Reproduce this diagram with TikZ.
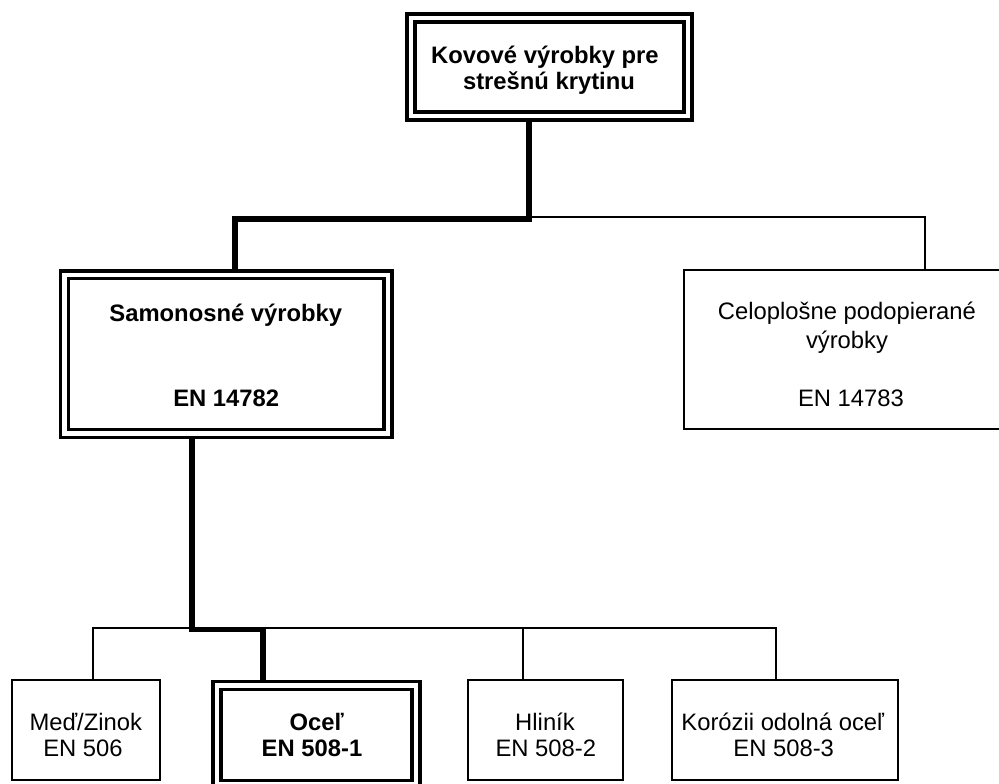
\documentclass[tikz,border=0pt]{standalone}
\usepackage{fontspec}
\setmainfont{Liberation Sans}
\pgfdeclarelayer{bg}
\pgfsetlayers{bg,main}
\tikzset{
  boxsingle/.style={draw=black, line width=2pt, rectangle, inner sep=0pt, fill=white},
  boxdouble/.style={draw=black, line width=3.4pt, double=white, double distance=4.4pt, rectangle, inner sep=0pt},
  thinconn/.style={draw=black, line width=2pt, line join=miter},
  thickconn/.style={draw=black, line width=5.7pt, line join=miter},
  txt/.style={inner sep=0pt, anchor=base, font=\fontsize{23.8}{28}\selectfont},
  txtb/.style={txt, font=\fontsize{23.8}{28}\selectfont\bfseries},
}
\begin{document}
\begin{tikzpicture}[x=1pt, y=-1pt]
\useasboundingbox (0,0) rectangle (999,784);
\clip (0,0) rectangle (999,784);
% boxes
\node[boxdouble, minimum width=277pt, minimum height=98pt] (top) at (549.5,67) {};
\node[boxdouble, minimum width=323.4pt, minimum height=158.8pt] (sam) at (226.3,354.1) {};
\node[boxsingle, minimum width=324pt, minimum height=159pt] (cel) at (846,349.5) {};
\node[boxsingle, minimum width=148pt, minimum height=99.5pt] (med) at (86,729.75) {};
\node[boxdouble, minimum width=199pt, minimum height=98.5pt] (ocel) at (316.5,734.9) {};
\node[boxsingle, minimum width=155pt, minimum height=100pt] (hli) at (545,730) {};
\node[boxsingle, minimum width=226pt, minimum height=100pt] (kor) at (784.5,730) {};
% junction coordinates
\coordinate (a1) at (529,218.9);
\coordinate (a2) at (235,218.9);
\coordinate (b1) at (529,217.2);
\coordinate (b2) at (925,217.2);
\coordinate (c1) at (192.2,629.5);
\coordinate (c2) at (263,629.5);
\coordinate (d0) at (93.3,627.7);
\coordinate (d1) at (775.7,627.7);
\coordinate (d2) at (523.3,627.7);
\begin{pgfonlayer}{bg}
  \draw[thinconn] (b1) -- (b2) -- (cel.north -| b2);
  \draw[thinconn] (med.north -| d0) -- (d0) -- (d1) -- (kor.north -| d1);
  \draw[thinconn] (d2) -- (hli.north -| d2);
  \draw[thickconn] (top.south -| a1) -- (a1) -- (a2) -- (sam.north -| a2);
  \draw[thickconn] (sam.south -| c1) -- (c1) -- (c2) -- (ocel.north -| c2);
\end{pgfonlayer}
% texts
\node[txtb] (t1) at (545,63.3) {Kovové výrobky pre};
\node[txtb] (t2) at (549,89.5) {strešnú krytinu};
\node[txtb] (s1) at (225.8,321.7) {Samonosné výrobky};
\node[txtb] (s2) at (226.2,406.7) {EN 14782};
\node[txt] (c1t) at (847,319.3) {Celoplošne podopierané};
\node[txt] (c2t) at (847,348.3) {výrobky};
\node[txt] (c3t) at (851,406.7) {EN 14783};
\node[txt] (m1) at (85.8,730.7) {Meď/Zinok};
\node[txt] (m2) at (83,756.7) {EN 506};
\node[txtb] (o1) at (316.7,730.7) {Oceľ};
\node[txtb] (o2) at (312,756.7) {EN 508-1};
\node[txt] (h1) at (545,730.7) {Hliník};
\node[txt] (h2) at (545.8,756.7) {EN 508-2};
\node[txt] (k1) at (782.8,730.7) {Korózii odolná oceľ};
\node[txt] (k2) at (783.7,756.7) {EN 508-3};
\end{tikzpicture}
\end{document}
